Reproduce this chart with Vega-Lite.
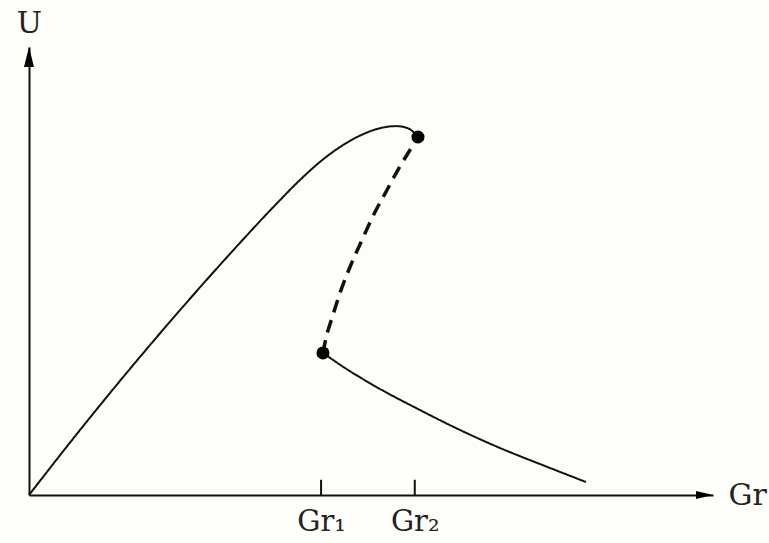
{
  "$schema": "https://vega.github.io/schema/vega-lite/v6.json",
  "width": 684,
  "height": 448,
  "autosize": "none",
  "padding": {"left": 29, "top": 47, "right": 56, "bottom": 48},
  "background": "#fdfdfa",
  "config": {"view": {"stroke": null}},
  "datasets": {
    "curve": [
      {"branch": "rising", "stability": "stable", "i": 0, "Gr": 0, "U": 0},
      {"branch": "rising", "stability": "stable", "i": 1, "Gr": 7.46, "U": 14.51},
      {"branch": "rising", "stability": "stable", "i": 2, "Gr": 14.77, "U": 28.17},
      {"branch": "rising", "stability": "stable", "i": 3, "Gr": 22.08, "U": 41.27},
      {"branch": "rising", "stability": "stable", "i": 4, "Gr": 29.39, "U": 53.84},
      {"branch": "rising", "stability": "stable", "i": 5, "Gr": 36.7, "U": 65.83},
      {"branch": "rising", "stability": "stable", "i": 6, "Gr": 39.62, "U": 70.33},
      {"branch": "rising", "stability": "stable", "i": 7, "Gr": 42.54, "U": 74.35},
      {"branch": "rising", "stability": "stable", "i": 8, "Gr": 45.47, "U": 77.68},
      {"branch": "rising", "stability": "stable", "i": 9, "Gr": 48.39, "U": 80.22},
      {"branch": "rising", "stability": "stable", "i": 10, "Gr": 51.32, "U": 81.88},
      {"branch": "rising", "stability": "stable", "i": 11, "Gr": 53.65, "U": 82.34},
      {"branch": "rising", "stability": "stable", "i": 12, "Gr": 54.82, "U": 82.14},
      {"branch": "rising", "stability": "stable", "i": 13, "Gr": 55.85, "U": 81.47},
      {"branch": "rising", "stability": "stable", "i": 14, "Gr": 56.87, "U": 79.91},
      {"branch": "middle", "stability": "unstable", "i": 10, "Gr": 56.87, "U": 79.91},
      {"branch": "middle", "stability": "unstable", "i": 9, "Gr": 55.7, "U": 77.01},
      {"branch": "middle", "stability": "unstable", "i": 8, "Gr": 54.09, "U": 72.99},
      {"branch": "middle", "stability": "unstable", "i": 7, "Gr": 52.34, "U": 68.08},
      {"branch": "middle", "stability": "unstable", "i": 6, "Gr": 50.44, "U": 62.72},
      {"branch": "middle", "stability": "unstable", "i": 5, "Gr": 48.68, "U": 56.92},
      {"branch": "middle", "stability": "unstable", "i": 4, "Gr": 46.93, "U": 50.89},
      {"branch": "middle", "stability": "unstable", "i": 3, "Gr": 45.47, "U": 45.09},
      {"branch": "middle", "stability": "unstable", "i": 2, "Gr": 44.3, "U": 39.51},
      {"branch": "middle", "stability": "unstable", "i": 1, "Gr": 43.42, "U": 35.04},
      {"branch": "middle", "stability": "unstable", "i": 0, "Gr": 42.98, "U": 31.7},
      {"branch": "lower", "stability": "stable", "i": 0, "Gr": 42.98, "U": 31.7},
      {"branch": "lower", "stability": "stable", "i": 1, "Gr": 46.2, "U": 28.35},
      {"branch": "lower", "stability": "stable", "i": 2, "Gr": 51.32, "U": 23.66},
      {"branch": "lower", "stability": "stable", "i": 3, "Gr": 56.58, "U": 19.42},
      {"branch": "lower", "stability": "stable", "i": 4, "Gr": 63.01, "U": 14.51},
      {"branch": "lower", "stability": "stable", "i": 5, "Gr": 68.86, "U": 10.49},
      {"branch": "lower", "stability": "stable", "i": 6, "Gr": 75.44, "U": 6.47},
      {"branch": "lower", "stability": "stable", "i": 7, "Gr": 81.43, "U": 2.9}
    ],
    "turning": [
      {"Gr": 56.87, "U": 79.91},
      {"Gr": 42.98, "U": 31.7}
    ],
    "ticks": [
      {"Gr": 42.7, "U": 0, "U2": 3.4},
      {"Gr": 56.4, "U": 0, "U2": 3.4}
    ],
    "arrows": [
      {"axis": "y", "Gr": 0, "U": 100},
      {"axis": "x", "Gr": 100, "U": 0}
    ]
  },
  "encoding": {
    "x": {
      "field": "Gr", "type": "quantitative",
      "scale": {"domain": [0, 100], "nice": false, "zero": false},
      "axis": {
        "domain": true, "domainColor": "#111", "domainWidth": 2,
        "ticks": false, "grid": false,
        "values": [42.7, 56.4],
        "labelExpr": "datum.value < 50 ? 'Gr₁' : 'Gr₂'",
        "labelFont": "DejaVu Serif", "labelFontSize": 29, "labelColor": "#222",
        "labelPadding": 12,
        "title": "Gr", "titleFont": "DejaVu Serif", "titleFontSize": 30,
        "titleFontWeight": "normal", "titleColor": "#222",
        "titleX": 699, "titleY": 0, "titleAlign": "left", "titleBaseline": "middle", "titleAngle": 0
      }
    },
    "y": {
      "field": "U", "type": "quantitative",
      "scale": {"domain": [0, 100], "nice": false, "zero": false},
      "axis": {
        "domain": true, "domainColor": "#111", "domainWidth": 2,
        "ticks": false, "labels": false, "grid": false,
        "title": "U", "titleFont": "DejaVu Serif", "titleFontSize": 30,
        "titleFontWeight": "normal", "titleColor": "#222",
        "titleX": 0, "titleY": -24, "titleAlign": "center", "titleBaseline": "middle", "titleAngle": 0
      }
    }
  },
  "layer": [
    {
      "data": {"name": "curve"},
      "mark": {"type": "line", "interpolate": "monotone", "color": "#111", "clip": false},
      "encoding": {
        "detail": {"field": "branch"},
        "order": {"field": "i", "type": "quantitative"},
        "strokeDash": {"field": "stability", "type": "nominal", "scale": {"domain": ["stable", "unstable"], "range": [[1, 0], [13, 8]]}, "legend": null},
        "strokeWidth": {"field": "stability", "type": "nominal", "scale": {"domain": ["stable", "unstable"], "range": [2, 3.5]}, "legend": null}
      }
    },
    {
      "data": {"name": "turning"},
      "mark": {"type": "point", "filled": true, "color": "#000", "opacity": 1, "size": 170}
    },
    {
      "data": {"name": "ticks"},
      "mark": {"type": "rule", "color": "#111", "strokeWidth": 2},
      "encoding": {"y2": {"field": "U2"}}
    },
    {
      "data": {"name": "arrows"},
      "transform": [{"filter": "datum.axis == 'y'"}],
      "mark": {"type": "point", "filled": true, "color": "#000", "opacity": 1, "size": 400, "shape": "M0,0L0.5,2L-0.5,2Z"}
    },
    {
      "data": {"name": "arrows"},
      "transform": [{"filter": "datum.axis == 'x'"}],
      "mark": {"type": "point", "filled": true, "color": "#000", "opacity": 1, "size": 400, "shape": "M0,0L-1.7,-0.4L-1.7,0.4Z"}
    }
  ]
}
